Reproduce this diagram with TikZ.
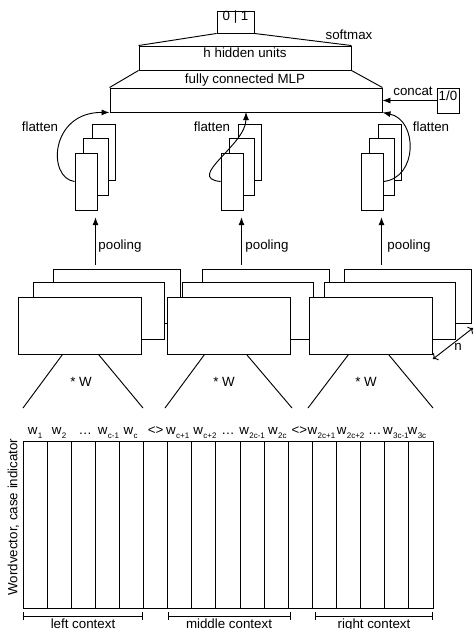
\documentclass[tikz,border=0pt]{standalone}
\usepackage{fontspec}
\setmainfont{Liberation Sans}
\usetikzlibrary{fit,arrows.meta}

\tikzset{
  box/.style={draw, fill=white, inner sep=0pt},
  lbl/.style={inner sep=0pt, font=\fontsize{10}{12}\selectfont},
  arr/.style={-{Latex[length=6pt,width=4.5pt]}},
  brace/.style={{Bar[width=6pt]}-{Bar[width=6pt]}},
}
\newcommand{\wsub}[1]{w\kern0.3pt\raisebox{-3.5pt}{\fontsize{6}{7}\selectfont #1}}

\begin{document}
\begin{tikzpicture}[x=0.75pt,y=0.75pt,yscale=-1,xscale=1,line width=0.7pt]
\useasboundingbox (0,0) rectangle (474,629);

%Shape: output and MLP
\node[box, fit={(217,11) (254,33)}, lbl] (out) {0 | 1};
\node[box, fit={(139,46) (351,70)}, lbl] (hid) {h hidden units};
\node[box, fit={(110,88) (382,112)}] (mlp) {};
\draw (out.south west) -- (hid.north west);
\draw (out.south east) -- (hid.north east);
\draw (hid.south west) -- (mlp.north west);
\draw (hid.south east) -- (mlp.north east);
% Text Node
\node[lbl] (softmax) at (349,35) {softmax};
\node[lbl] (fcmlp) at (245,80) {fully connected MLP};

%Shape: case flag
\node[box, fit={(437,88) (459,113)}, lbl] (flag) {1/0};
\draw[arr] (flag.west) -- (flag.west -| mlp.east);
\node[lbl] (concat) at (413,91) {concat};

%Shape: convolution maps
\foreach \x/\i in {18/1,167/2,309/3}{
  \node[box, fit={(\x+35,269) (\x+162,323)}] (conv\i c) {};
  \node[box, fit={(\x+15,282) (\x+146,339)}] (conv\i b) {};
  \node[box, fit={(\x,297) (\x+123,354)}] (conv\i a) {};
}

%Shape: pooled maps
\foreach \x/\i in {75/1,221/2,361/3}{
  \node[box, fit={(\x+17,124) (\x+40,180)}] (pool\i c) {};
  \node[box, fit={(\x+8,138) (\x+33,195)}] (pool\i b) {};
  \node[box, fit={(\x,153) (\x+22,210)}] (pool\i a) {};
  \draw[arr, shorten <=3pt, shorten >=5pt] (conv\i c.north -| pool\i b.south) -- (pool\i a.south -| pool\i b.south);
}
% Text Node
\node[lbl, anchor=west] (pooling1) at (98,246) {pooling};
\node[lbl, anchor=west] (pooling2) at (245,246) {pooling};
\node[lbl, anchor=west] (pooling3) at (387,246) {pooling};

%Shape: flatten arrows
\coordinate (flat2) at (246,112);
\draw[arr] (pool1a.west) .. controls (47,178) and (50,112) .. (mlp.south west);
\draw[arr] (pool2a.west) .. controls (185,178) and (246,145) .. (flat2);
\draw[arr] (pool3a.east) .. controls (418,178) and (418,120) .. (mlp.south east);
% Text Node
\node[lbl] (flatten1) at (40,127) {flatten};
\node[lbl] (flatten2) at (212,127) {flatten};
\node[lbl] (flatten3) at (431,127) {flatten};

%Shape: number of filters
\coordinate (n1) at (433,359);
\coordinate (n2) at (473,328);
\draw[<->] (n1) -- (n2);
\node[lbl] (nlab) at (458,347) {n};

%Shape: filter lines
\coordinate (w1l) at (23,408);
\coordinate (w1r) at (143,408);
\coordinate (w2l) at (165,408);
\coordinate (w2r) at (292,408);
\coordinate (w3l) at (308,408);
\coordinate (w3r) at (433,408);
\draw (conv1a.south west) ++(45,0) -- (w1l);
\draw (conv1a.south west) ++(81,0) -- (w1r);
\draw (conv2a.south west) ++(38,0) -- (w2l);
\draw (conv2a.south west) ++(80,0) -- (w2r);
\draw (conv3a.south west) ++(40,0) -- (w3l);
\draw (conv3a.south west) ++(80,0) -- (w3r);
% Text Node
\node[lbl] (filt1) at (81,382) {* W};
\node[lbl] (filt2) at (224,382) {* W};
\node[lbl] (filt3) at (366,382) {* W};

%Shape: word matrix
\node[draw, fit={(23,441) (433,608)}, inner sep=0pt] (grid) {};
\foreach \i in {1,...,16}
  \draw (23+24.12*\i,441) -- (23+24.12*\i,608);
\foreach \i/\dx/\t in {1/0/{\wsub{1}},2/0/{\wsub{2}},3/2/{\dots},4/1/{\wsub{c-1}},5/-1/{\wsub{c}},6/0/{<>},
                   7/-2/{\wsub{c+1}},8/1/{\wsub{c+2}},9/0/{\dots},10/0/{\wsub{2c-1}},11/1/{\wsub{2c}},12/-1/{<>},
                   13/-3/{\wsub{2c+1}},14/2/{\wsub{2c+2}},15/2/{\dots},16/-1/{\wsub{3c-1}},17/-4/{\wsub{3c}}}
  \node[lbl, anchor=base] (word\i) at (23+24.12*\i-12.06+\dx,434) {\t};
\node[lbl, rotate=90] (wvec) at (13.5,517) {Wordvector, case indicator};

%Shape: context braces
\coordinate (lc1) at (23,616);
\coordinate (lc2) at (143,616);
\coordinate (mc1) at (168,616);
\coordinate (mc2) at (291,616);
\coordinate (rc1) at (315,616);
\coordinate (rc2) at (433,616);
\draw[brace] (lc1) -- (lc2);
\draw[brace] (mc1) -- (mc2);
\draw[brace] (rc1) -- (rc2);
% Text Node
\node[lbl, anchor=base] (left) at (83,628) {left context};
\node[lbl, anchor=base] (middle) at (229,628) {middle context};
\node[lbl, anchor=base] (right) at (374,628) {right context};

\end{tikzpicture}
\end{document}
